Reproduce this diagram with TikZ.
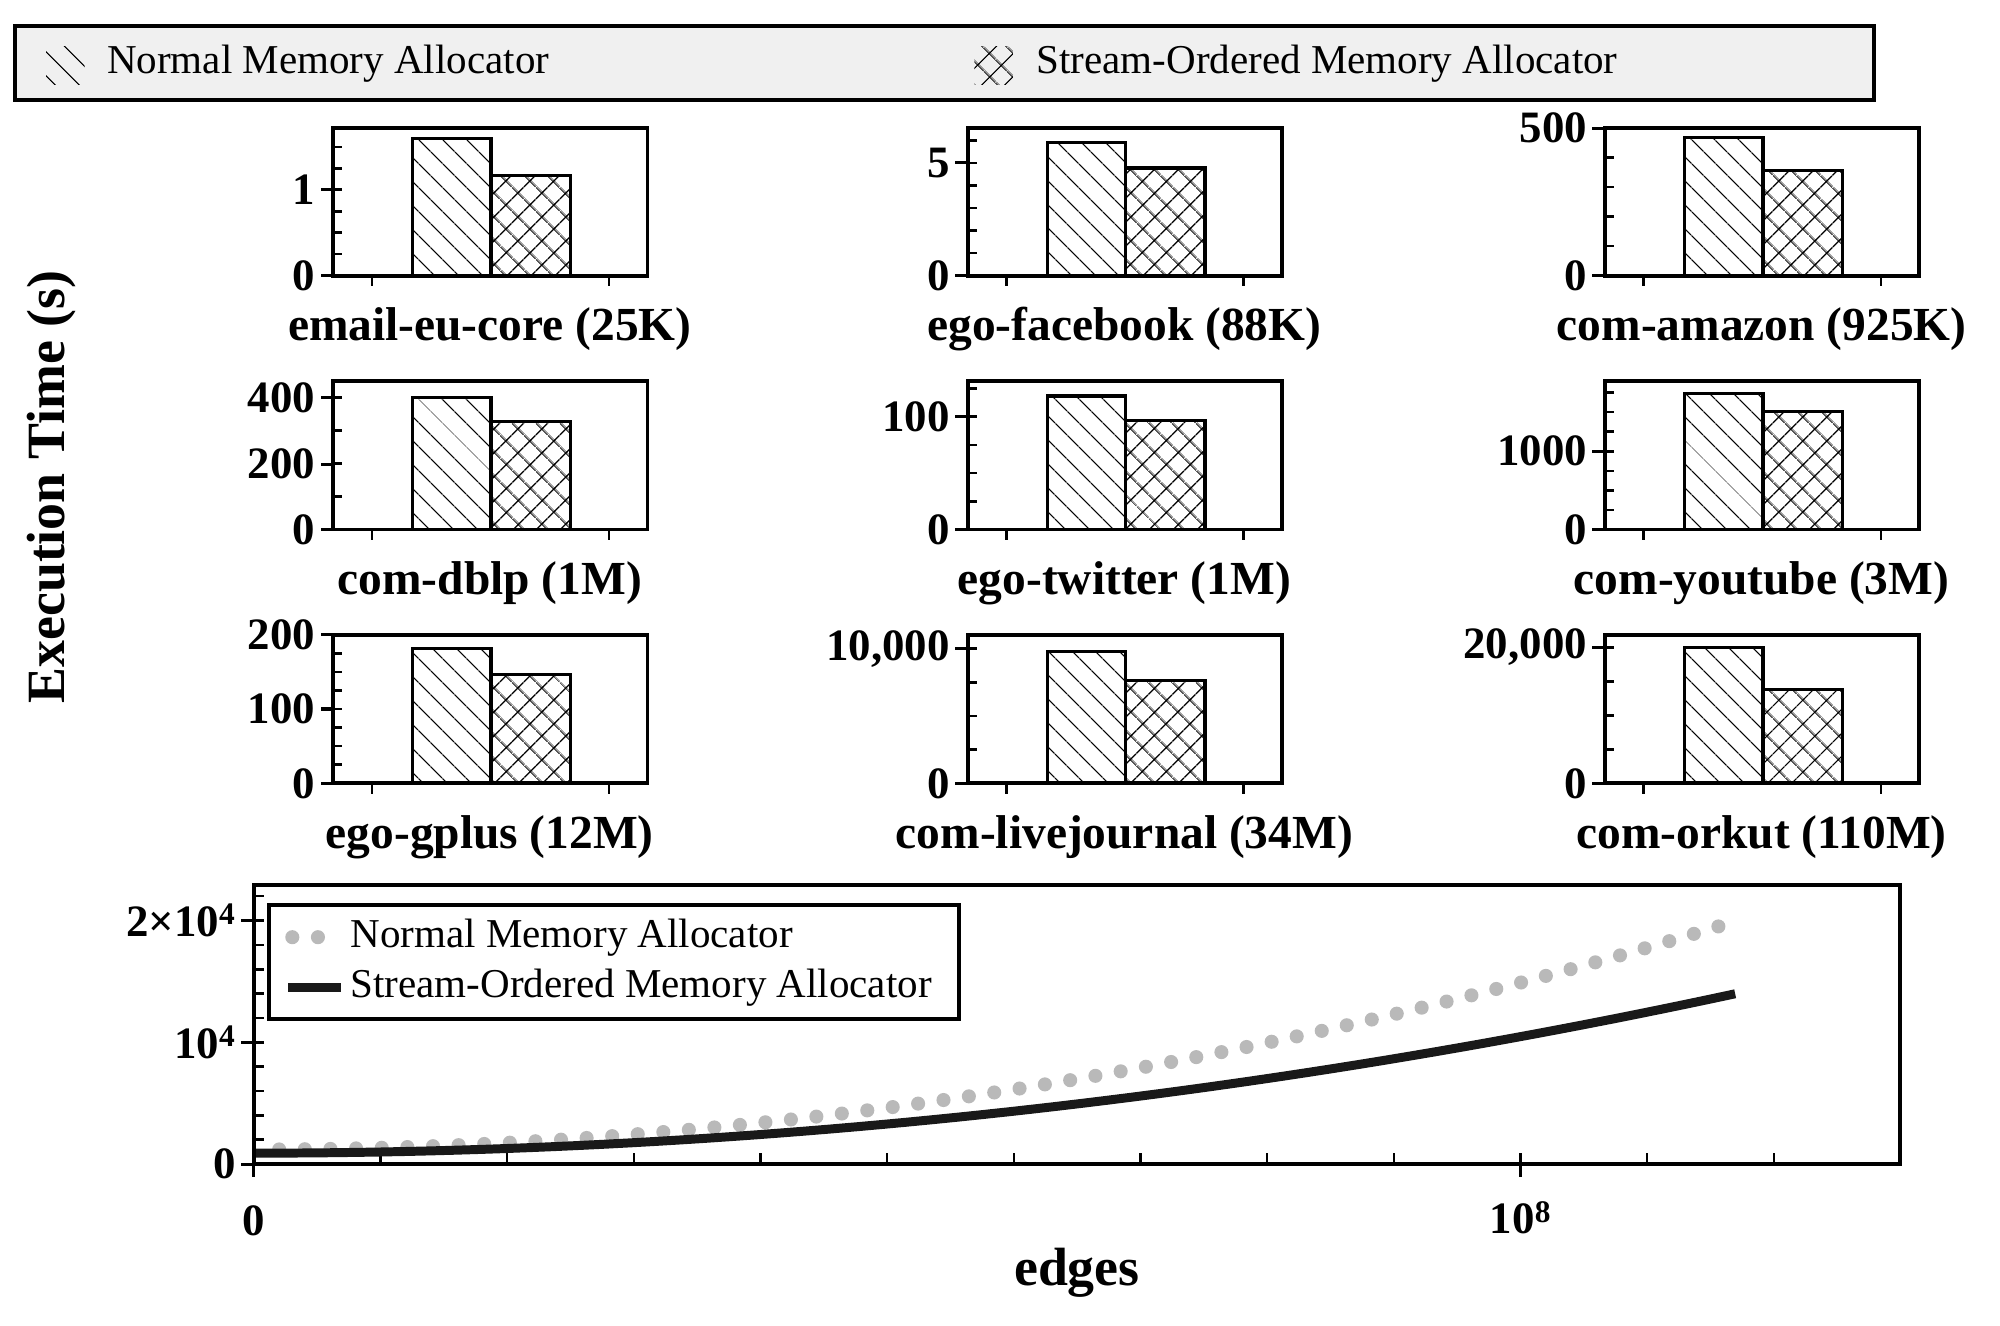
\documentclass[tikz,border=0pt]{standalone}
\usepackage{fontspec}
\setmainfont{Liberation Serif}
\usetikzlibrary{patterns.meta}
\tikzset{
 frame/.style={line width=3pt},
 bar/.style={line width=2.6pt},
 hatchA/.style={pattern={Lines[angle=-45,distance=13pt,line width=1pt]}},
 hatchB/.style={pattern={Hatch[angle=45,distance=13pt,line width=1pt]}},
 lab/.style={font=\fontsize{37}{39}\selectfont\bfseries},
 tl/.style={font=\fontsize{35}{37}\selectfont\bfseries,left,inner sep=3pt},
 leg/.style={font=\fontsize{32}{34}\selectfont,anchor=west},
}
\newcommand\mypanel[7]{%
 \draw[bar,hatchA] (#1+62,#3) rectangle (#1+123,#4);
 \draw[bar,hatchB] (#1+123,#3) rectangle (#1+185,#5);
 \draw[frame] (#1,#2) rectangle (#1+245,#3);
 \node[lab] at (#1+122,#3+42) {#6};
 \draw[line width=2pt] (#1+30,#3)--++(0,8) (#1+215,#3)--++(0,8);
 \begin{scope}\clip (#1,#2) rectangle (#1+20,#3);
 \foreach \k in {1,...,30} \draw[line width=2pt] (#1,#3-\k*#7)--++(7,0);
 \end{scope}}
\begin{document}
\begin{tikzpicture}[x=1pt,y=-1pt]
\useasboundingbox (0,0) rectangle (1560,1034);
\draw[frame,fill=gray!12] (12,20) rectangle (1462,78);
\fill[hatchA] (36,36) rectangle (66,66);
\node[leg] (l1) at (80,50) {Normal Memory Allocator};
\fill[hatchB] (760,36) rectangle (790,66);
\node[leg] (l2) at (805,50) {Stream-Ordered Memory Allocator};
\node[rotate=90,font=\fontsize{42}{44}\selectfont\bfseries] (yl) at (40,380) {Execution Time (s)};
\mypanel{260}{100}{215}{108}{137}{email-eu-core (25K)}{16.75}
\mypanel{755}{100}{215}{111}{131}{ego-facebook (88K)}{17.6}
\mypanel{1252}{100}{215}{107}{133}{com-amazon (925K)}{23}
\mypanel{260}{297}{413}{310}{329}{com-dblp (1M)}{25.75}
\mypanel{755}{297}{413}{309}{328}{ego-twitter (1M)}{22}
\mypanel{1252}{297}{413}{307}{321}{com-youtube (3M)}{15.25}
\mypanel{260}{495}{611}{506}{526}{ego-gplus (12M)}{14.5}
\mypanel{755}{495}{611}{508}{531}{com-livejournal (34M)}{26.25}
\mypanel{1252}{495}{611}{505}{538}{com-orkut (110M)}{26.5}
\foreach \x/\y/\t in {260/148/1,260/215/0,755/127/5,755/215/0,1252/100/500,1252/215/0,
 260/310/400,260/362/200,260/413/0,755/325/100,755/413/0,1252/352/1000,1252/413/0,
 260/495/200,260/553/100,260/611/0,755/506/{10,000},755/611/0,1252/505/{20,000},1252/611/0}
 {\draw[line width=2.5pt] (\x,\y)--(\x-10,\y) node[tl]{\t};}
\begin{scope}
\clip (198,690) rectangle (1482,908);
\foreach \k in {1,...,12} \draw[line width=2pt] (198+\k*98.8,908)--++(0,-9);
\foreach \k in {1,...,11} \draw[line width=2pt] (198,908-\k*19)--++(8,0);
\draw[gray!55,line width=11pt,line cap=round,dash pattern=on 0pt off 20pt]
 plot[domain=0.02:1.16,samples=60] ({198+988*\x},{896.6-130.15*\x*\x});
\draw[black!90,line width=7pt]
 plot[domain=0:1.17,samples=60] ({198+988*\x},{899.45-90.9*\x*\x});
\end{scope}
\draw[frame] (198,690) rectangle (1482,908);
\foreach \y/\t in {718/{2×10\textsuperscript{4}},813/{10\textsuperscript{4}},908/0}
 \draw[line width=2.5pt] (198,\y)--(188,\y) node[tl]{\t};
\draw[line width=2.5pt] (198,908)--++(0,10) (1186,908)--++(0,10);
\node[tl,anchor=center] (x0) at (198,952) {0};
\node[tl,anchor=center] (x8) at (1186,950) {10\textsuperscript{8}};
\node[font=\fontsize{42}{44}\selectfont\bfseries] (xl) at (840,993) {edges};
\draw[frame,fill=white] (210,706) rectangle (748,795);
\draw[gray!55,line width=11pt,line cap=round,dash pattern=on 0pt off 20pt] (228,731)--(266,731);
\draw[black!90,line width=7pt] (225,770)--(266,770);
\node[leg] (m1) at (270,731) {Normal Memory Allocator};
\node[leg] (m2) at (270,770) {Stream-Ordered Memory Allocator};
\end{tikzpicture}
\end{document}
